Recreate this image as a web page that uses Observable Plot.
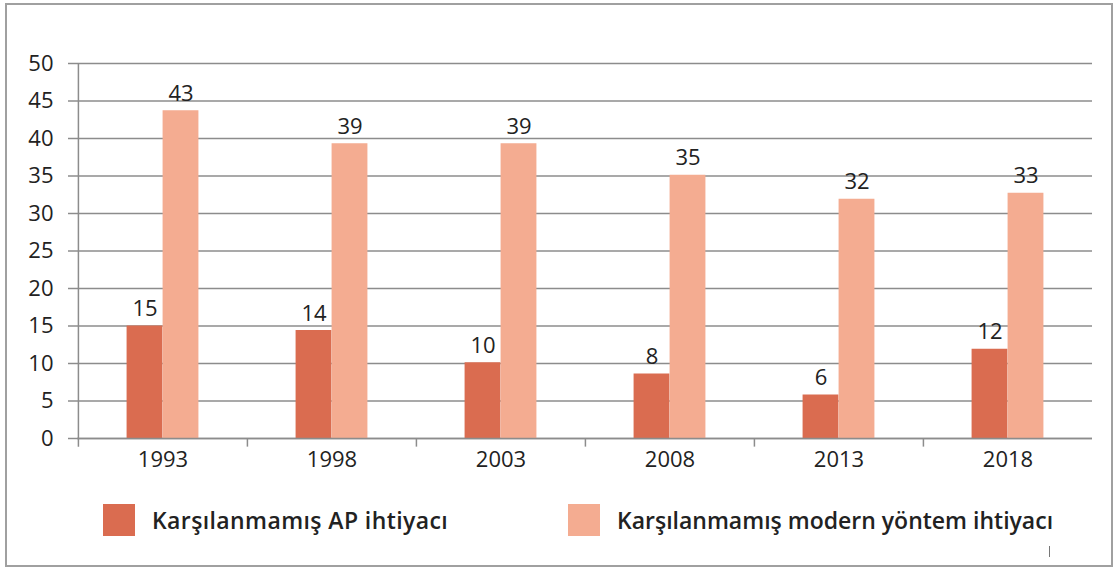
<!DOCTYPE html>
<html>
<head>
<meta charset="utf-8">
<script src="https://cdn.jsdelivr.net/npm/d3@7"></script>
<script src="https://cdn.jsdelivr.net/npm/@observablehq/plot@0.6"></script>
<style>
  html, body { margin: 0; padding: 0; background: #fff; }
  body { width: 1116px; height: 571px; overflow: hidden; }
  #wrap { position: relative; width: 1116px; height: 571px; font-family: "Open Sans", sans-serif; }
  #frame { position: absolute; left: 5px; top: 3px; width: 1108px; height: 564px; border: 2px solid #a0a0a0; box-sizing: border-box; }
  #chart { position: absolute; left: 0; top: 0; }
  .leg { position: absolute; display: flex; align-items: center; font-size: 23px; font-weight: 600; color: #222; white-space: nowrap; }
  .sw { width: 32px; height: 32px; margin-right: 17px; }
  #mark { position: absolute; left: 1049px; top: 546px; width: 1px; height: 11px; background: #777; }
</style>
</head>
<body>
<div id="wrap">
  <div id="frame"></div>
  <div id="chart"></div>
  <div class="leg" style="left:103px; top:504px;"><div class="sw" style="background:#DA6C50"></div><span id="l1" style="letter-spacing:0.4px"></span></div>
  <div class="leg" style="left:568px; top:504px;"><div class="sw" style="background:#F4AC91"></div><span id="l2"></span></div>
  <div id="mark"></div>
</div>
<script>
const years = ["1993", "1998", "2003", "2008", "2013", "2018"];
const seriesNames = ["Karşılanmamış AP ihtiyacı", "Karşılanmamış modern yöntem ihtiyacı"];
const apNeed = [15.0, 14.4, 10.1, 8.6, 5.8, 11.9];
const modernNeed = [43.7, 39.3, 39.3, 35.1, 31.9, 32.7];
const apLabels = ["15", "14", "10", "8", "6", "12"];
const modernLabels = ["43", "39", "39", "35", "32", "33"];
const yTicks = [0, 5, 10, 15, 20, 25, 30, 35, 40, 45, 50];
const colors = ["#DA6C50", "#F4AC91"];

document.getElementById("l1").textContent = seriesNames[0];
document.getElementById("l2").textContent = seriesNames[1];

const W = 1116, H = 480, ML = 77, MR = 24, MT = 63, MB = 42;
const bw = (W - ML - MR) / years.length;
const barW = 36;

const ap = years.map((y, i) => ({year: y, value: apNeed[i], label: apLabels[i]}));
const md = years.map((y, i) => ({year: y, value: modernNeed[i], label: modernLabels[i]}));

const gridColor = "#8c8c8c";
const fontSize = "22px";

const chart = Plot.plot({
  width: W, height: H,
  marginLeft: ML, marginRight: MR, marginTop: MT, marginBottom: MB,
  style: {fontFamily: "'Open Sans', sans-serif", fontSize: fontSize, color: "#222", background: "transparent"},
  x: {domain: years, padding: 0, label: null},
  y: {domain: [0, 50], label: null},
  marks: [
    Plot.gridY(yTicks, {stroke: gridColor, strokeOpacity: 1, strokeWidth: 1.5}),
    Plot.axisY(yTicks, {tickSize: 9, tickPadding: 15, stroke: gridColor, strokeWidth: 1.5, strokeOpacity: 1, fontSize: fontSize, fill: "#222", label: null}),
    Plot.axisX({tickSize: 0, tickPadding: 13, fontSize: fontSize, fill: "#222", label: null}),
    Plot.barY(ap, {x: "year", y: "value", fill: colors[0], insetLeft: bw / 2 - barW, insetRight: bw / 2}),
    Plot.barY(md, {x: "year", y: "value", fill: colors[1], insetLeft: bw / 2, insetRight: bw / 2 - barW}),
    Plot.ruleX([years[0]], {x: d => d, y1: -1.15, y2: 50, dx: -bw / 2, stroke: gridColor, strokeWidth: 1.5}),
    Plot.ruleX(years.slice(1), {x: d => d, y1: -1.15, y2: 0, dx: -bw / 2, stroke: gridColor, strokeWidth: 1.5}),
    Plot.ruleY([0], {stroke: gridColor, strokeWidth: 1.5}),
    Plot.text(ap, {x: "year", y: "value", text: "label", dx: -barW / 2, dy: -10, lineAnchor: "bottom", fill: "#222", fontSize: fontSize}),
    Plot.text(md, {x: "year", y: "value", text: "label", dx: barW / 2, dy: -10, lineAnchor: "bottom", fill: "#222", fontSize: fontSize})
  ]
});
document.getElementById("chart").appendChild(chart);
</script>
</body>
</html>
